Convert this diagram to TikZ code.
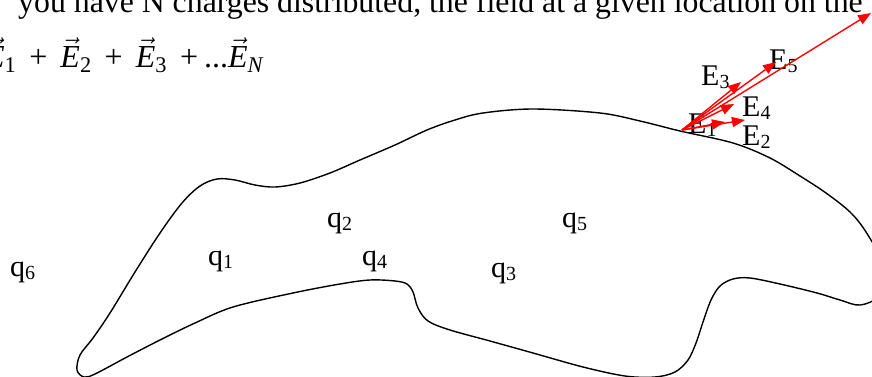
\documentclass[tikz,border=0pt]{standalone}
\usepackage{fix-cm}
\usepackage{amsmath}
\usepackage{fontspec}
\setmainfont{Liberation Serif}
\usetikzlibrary{arrows.meta,positioning}

\newcommand{\vecE}[1]{$\vec{\text{\itshape E}}_{\text{#1}}$}
\newcommand{\lbl}[2]{#1{\fontsize{20}{20}\selectfont\raisebox{-3pt}{#2}}}

\begin{document}
\begin{tikzpicture}[x=1pt,y=-1pt,
            txt/.style={anchor=base west, inner sep=0pt, font=\fontsize{30}{30}\selectfont},
            field/.style={red, line width=1.4pt, -{Triangle[length=13pt,width=10pt]}}]

            \useasboundingbox (0,0) rectangle (872,377);
            \clip (0,0) rectangle (872,377);

            % Heading
            \node[txt, font=\fontsize{31.8}{32}\selectfont] (head) at (18,13)
                {you have N charges distributed, the field at a given location on the};
            \node[txt, font=\fontsize{32}{32}\selectfont] (sum) at (-15,68)
                {\vecE{1}\hskip13pt+\hskip13pt\vecE{2}\hskip13pt+\hskip13pt\vecE{3}\hskip13pt+\hskip6pt...\vecE{\itshape N}};

            % Body
            \draw[line width=1.4pt] plot[smooth cycle, tension=0.55] coordinates {
                (77,370) (80,355) (93,338) (110,313) (135,272) (160,233) (182,203)
                (200,186) (217,179) (235,180) (255,185) (275,187) (300,183)
                (330,173) (360,160) (395,145) (427,130) (455,120) (483,113)
                (533,109) (600,113) (640,121) (680,131) (733,143) (770,158)
                (800,176) (826,193) (850,212) (866,232) (880,260) (878,295)
                (860,305) (840,300) (817,293) (780,284) (750,278) (733,279)
                (720,286) (711,300) (703,322) (696,343) (688,360) (675,372)
                (655,377) (625,376) (583,367) (533,353) (490,341) (450,330)
                (428,321) (418,308) (413,292) (407,284) (395,281) (370,280)
                (340,284) (293,293) (233,307) (195,323) (160,340) (127,357)
                (95,374) (84,377)};

            % Charges
            \node[txt] (q6) at (10,276) {\lbl{q}{6}};
            \node[txt] (q1) at (208,265) {\lbl{q}{1}};
            \node[txt] (q2) at (327,227) {\lbl{q}{2}};
            \node[txt] (q4) at (362,265) {\lbl{q}{4}};
            \node[txt] (q3) at (491,277) {\lbl{q}{3}};
            \node[txt] (q5) at (562,227) {\lbl{q}{5}};

            % Field labels
            \node[txt] (lE1) at (688,133) {\lbl{E}{1}};
            \node[txt] (lE2) at (742,145) {\lbl{E}{2}};
            \node[txt] (lE3) at (701,86) {\lbl{E}{3}};
            \node[txt] (lE4) at (742,117) {\lbl{E}{4}};
            \node[txt] (lE5) at (769,70) {\lbl{E}{5}};

            % Field vectors
            \coordinate (P) at (682,130);
            \coordinate (t1) at (725,122);
            \coordinate (t2) at (745,120);
            \coordinate (t3) at (741,82);
            \coordinate (t4) at (734,104);
            \coordinate (t5) at (776,62);
            \coordinate (tE) at (871,13);

            \draw[field] (P) -- (t1);
            \draw[field] (P) -- (t2);
            \draw[field] (P) -- (t3);
            \draw[field] (P) -- (t4);
            \draw[field] (P) -- (t5);
            \draw[field] (P) -- (tE);
\end{tikzpicture}
\end{document}
